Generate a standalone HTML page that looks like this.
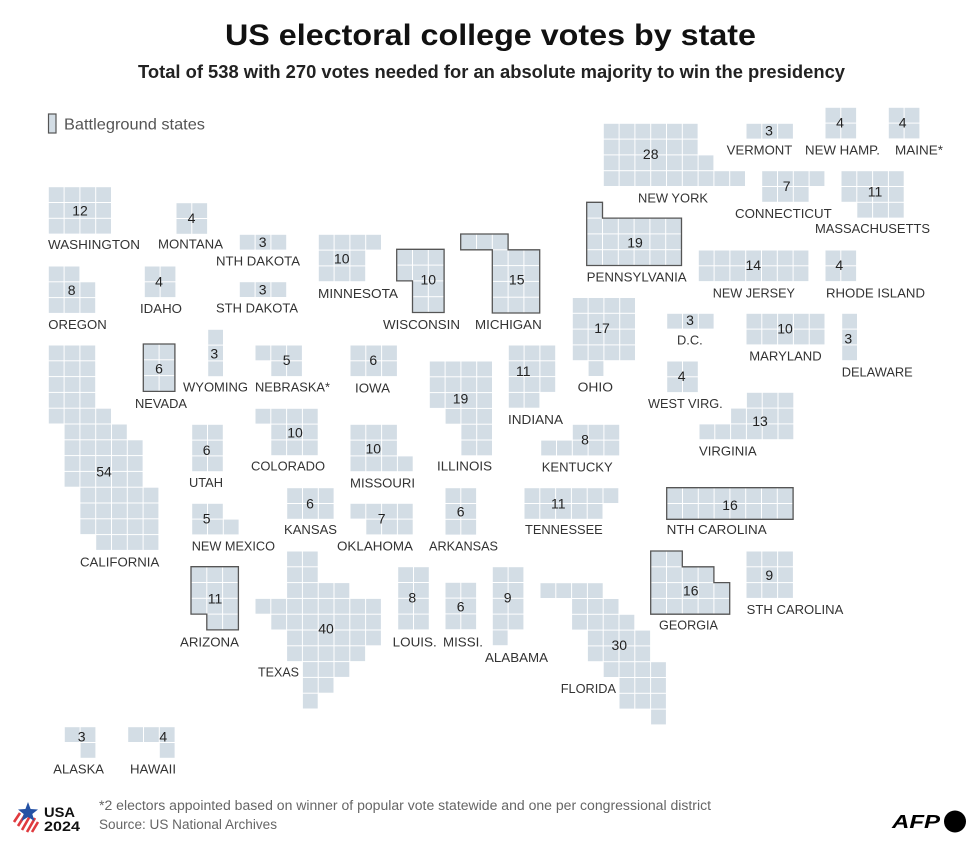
<!DOCTYPE html>
<html>
<head>
<meta charset="utf-8">
<style>
html,body{margin:0;padding:0;background:#fff;}
svg{display:block;}
.t{font-family:"Liberation Sans",Arial,sans-serif;}
.lb{font-family:"Liberation Sans",Arial,sans-serif;font-size:13px;fill:#333;}
.n{font-family:"Liberation Sans",Arial,sans-serif;font-size:14px;fill:#222;text-anchor:middle;}
.bd{fill:none;stroke:#555;stroke-width:1.3;}
</style>
</head>
<body>
<svg width="980" height="845" viewBox="0 0 980 845" xmlns="http://www.w3.org/2000/svg">
<defs>
<pattern id="c" patternUnits="userSpaceOnUse" width="15.8" height="15.8">
<rect x="0.5" y="0.5" width="14.8" height="14.8" fill="#d3dde5"/>
</pattern>
</defs>
<rect width="980" height="845" fill="#fff"/>

<!-- Header -->
<text class="t" x="225" y="45" font-size="30" font-weight="bold" fill="#111" textLength="531" lengthAdjust="spacingAndGlyphs">US electoral college votes by state</text>
<text class="t" x="138" y="78" font-size="18" font-weight="bold" fill="#222" textLength="707" lengthAdjust="spacingAndGlyphs">Total of 538 with 270 votes needed for an absolute majority to win the presidency</text>

<!-- Legend -->
<rect x="48.5" y="114" width="7.5" height="19" fill="#d3dde5" stroke="#555" stroke-width="1.2"/>
<text class="t" x="64" y="129.5" font-size="16" fill="#555" textLength="141" lengthAdjust="spacingAndGlyphs">Battleground states</text>

<!-- States -->
<g fill="url(#c)">
<g transform="translate(48.3,186.7)"><rect x="0" y="0" width="63.2" height="47.4"/></g>
<g transform="translate(176,202.7)"><rect x="0" y="0" width="31.6" height="31.6"/></g>
<g transform="translate(239.3,234.3)"><rect x="0" y="0" width="47.4" height="15.8"/></g>
<g transform="translate(48.3,266)"><rect x="0" y="0" width="31.6" height="15.8"/><rect x="0" y="15.8" width="47.4" height="31.6"/></g>
<g transform="translate(144.3,266)"><rect x="0" y="0" width="31.6" height="31.6"/></g>
<g transform="translate(239.3,281.7)"><rect x="0" y="0" width="47.4" height="15.8"/></g>
<g transform="translate(318.3,234.3)"><rect x="0" y="0" width="63.2" height="15.8"/><rect x="0" y="15.8" width="47.4" height="31.6"/></g>
<g transform="translate(396.7,249.3)"><rect x="0" y="0" width="47.4" height="31.6"/><rect x="15.8" y="31.6" width="31.6" height="31.6"/><path class="bd" d="M0,0H47.4V63.2H15.8V31.6H0Z"/></g>
<g transform="translate(460.7,234)"><rect x="0" y="0" width="47.4" height="15.8"/><rect x="31.6" y="15.8" width="47.4" height="63.2"/><path class="bd" d="M0,0H47.4V15.8H79V79H31.6V15.8H0Z"/></g>
<g transform="translate(207.7,329.3)"><rect x="0" y="0" width="15.8" height="47.4"/></g>
<g transform="translate(143.3,344)"><rect x="0" y="0" width="31.6" height="47.4"/><path class="bd" d="M0,0H31.6V47.4H0Z"/></g>
<g transform="translate(255,345)"><rect x="0" y="0" width="47.4" height="15.8"/><rect x="15.8" y="15.8" width="31.6" height="15.8"/></g>
<g transform="translate(350,345)"><rect x="0" y="0" width="47.4" height="31.6"/></g>
<g transform="translate(48.3,345)">
<rect x="0" y="0" width="47.4" height="63.2"/>
<rect x="0" y="63.2" width="63.2" height="15.8"/>
<rect x="15.8" y="79" width="63.2" height="15.8"/>
<rect x="15.8" y="94.8" width="79" height="47.4"/>
<rect x="31.6" y="142.2" width="79" height="47.4"/>
<rect x="47.4" y="189.6" width="63.2" height="15.8"/>
</g>
<g transform="translate(191.7,424.3)"><rect x="0" y="0" width="31.6" height="47.4"/></g>
<g transform="translate(255,408.3)"><rect x="0" y="0" width="63.2" height="15.8"/><rect x="15.8" y="15.8" width="47.4" height="31.6"/></g>
<g transform="translate(350,424.3)"><rect x="0" y="0" width="47.4" height="31.6"/><rect x="0" y="31.6" width="63.2" height="15.8"/></g>
<g transform="translate(429.3,361)"><rect x="0" y="0" width="63.2" height="47.4"/><rect x="15.8" y="47.4" width="47.4" height="15.8"/><rect x="31.6" y="63.2" width="31.6" height="31.6"/></g>
<g transform="translate(508.3,345)"><rect x="0" y="0" width="47.4" height="47.4"/><rect x="0" y="47.4" width="31.6" height="15.8"/></g>
<g transform="translate(572.3,297.5)"><rect x="0" y="0" width="63.2" height="63.2"/><rect x="15.8" y="63.2" width="15.8" height="15.8"/></g>
<g transform="translate(191.7,503.3)"><rect x="0" y="0" width="31.6" height="15.8"/><rect x="0" y="15.8" width="47.4" height="15.8"/></g>
<g transform="translate(286.7,487.7)"><rect x="0" y="0" width="47.4" height="31.6"/></g>
<g transform="translate(350,503.3)"><rect x="0" y="0" width="63.2" height="15.8"/><rect x="15.8" y="15.8" width="47.4" height="15.8"/></g>
<g transform="translate(445,487.7)"><rect x="0" y="0" width="31.6" height="47.4"/></g>
<g transform="translate(540.7,424.3)"><rect x="31.6" y="0" width="47.4" height="15.8"/><rect x="0" y="15.8" width="79" height="15.8"/></g>
<g transform="translate(524,487.7)"><rect x="0" y="0" width="94.8" height="15.8"/><rect x="0" y="15.8" width="79" height="15.8"/></g>
<g transform="translate(666.7,487.7)"><rect x="0" y="0" width="126.4" height="31.6"/><path class="bd" d="M0,0H126.4V31.6H0Z"/></g>
<g transform="translate(666.7,361)"><rect x="0" y="0" width="31.6" height="31.6"/></g>
<g transform="translate(699,392.3)"><rect x="47.4" y="0" width="47.4" height="15.8"/><rect x="31.6" y="15.8" width="63.2" height="15.8"/><rect x="0" y="31.6" width="94.8" height="15.8"/></g>
<g transform="translate(666.7,313.3)"><rect x="0" y="0" width="47.4" height="15.8"/></g>
<g transform="translate(746,313.3)"><rect x="0" y="0" width="79" height="31.6"/></g>
<g transform="translate(841.7,313.3)"><rect x="0" y="0" width="15.8" height="47.4"/></g>
<g transform="translate(603.3,123.3)"><rect x="0" y="0" width="94.8" height="31.6"/><rect x="0" y="31.6" width="110.6" height="15.8"/><rect x="0" y="47.4" width="142.2" height="15.8"/></g>
<g transform="translate(746,123.3)"><rect x="0" y="0" width="47.4" height="15.8"/></g>
<g transform="translate(825,107.3)"><rect x="0" y="0" width="31.6" height="31.6"/></g>
<g transform="translate(888.3,107.3)"><rect x="0" y="0" width="31.6" height="31.6"/></g>
<g transform="translate(761.7,170.7)"><rect x="0" y="0" width="63.2" height="15.8"/><rect x="0" y="15.8" width="47.4" height="15.8"/></g>
<g transform="translate(841,170.7)"><rect x="0" y="0" width="63.2" height="31.6"/><rect x="15.8" y="31.6" width="47.4" height="15.8"/></g>
<g transform="translate(586.7,202.3)"><rect x="0" y="0" width="15.8" height="15.8"/><rect x="0" y="15.8" width="94.8" height="47.4"/><path class="bd" d="M0,0H15.8V15.8H94.8V63.2H0Z"/></g>
<g transform="translate(698.3,250)"><rect x="0" y="0" width="110.6" height="31.6"/></g>
<g transform="translate(825,250)"><rect x="0" y="0" width="31.6" height="31.6"/></g>
<g transform="translate(191,566.7)"><rect x="0" y="0" width="47.4" height="47.4"/><rect x="15.8" y="47.4" width="31.6" height="15.8"/><path class="bd" d="M0,0H47.4V63.2H15.8V47.4H0Z"/></g>
<g transform="translate(255,551)">
<rect x="31.6" y="0" width="31.6" height="31.6"/>
<rect x="31.6" y="31.6" width="63.2" height="15.8"/>
<rect x="0" y="47.4" width="126.4" height="15.8"/>
<rect x="15.8" y="63.2" width="110.6" height="15.8"/>
<rect x="31.6" y="79" width="94.8" height="15.8"/>
<rect x="31.6" y="94.8" width="79" height="15.8"/>
<rect x="47.4" y="110.6" width="47.4" height="15.8"/>
<rect x="47.4" y="126.4" width="31.6" height="15.8"/>
<rect x="47.4" y="142.2" width="15.8" height="15.8"/>
</g>
<g transform="translate(397.7,566.7)"><rect x="0" y="0" width="31.6" height="63.2"/></g>
<g transform="translate(445,582.3)"><rect x="0" y="0" width="31.6" height="47.4"/></g>
<g transform="translate(492.3,566.7)"><rect x="0" y="0" width="31.6" height="63.2"/><rect x="0" y="63.2" width="15.8" height="15.8"/></g>
<g transform="translate(650.7,551)"><rect x="0" y="0" width="31.6" height="15.8"/><rect x="0" y="15.8" width="63.2" height="15.8"/><rect x="0" y="31.6" width="79" height="31.6"/><path class="bd" d="M0,0H31.6V15.8H63.2V31.6H79V63.2H0Z"/></g>
<g transform="translate(746,551)"><rect x="0" y="0" width="47.4" height="47.4"/></g>
<g transform="translate(540,582.7)">
<rect x="0" y="0" width="63.2" height="15.8"/>
<rect x="31.6" y="15.8" width="47.4" height="15.8"/>
<rect x="31.6" y="31.6" width="63.2" height="15.8"/>
<rect x="47.4" y="47.4" width="63.2" height="31.6"/>
<rect x="63.2" y="79" width="63.2" height="15.8"/>
<rect x="79" y="94.8" width="47.4" height="31.6"/>
<rect x="110.6" y="126.4" width="15.8" height="15.8"/>
</g>
<g transform="translate(64.3,726.7)"><rect x="0" y="0" width="31.6" height="15.8"/><rect x="15.8" y="15.8" width="15.8" height="15.8"/></g>
<g transform="translate(127.7,726.7)"><rect x="0" y="0" width="47.4" height="15.8"/><rect x="31.6" y="15.8" width="15.8" height="15.8"/></g>
</g>

<!-- Numbers -->
<g>
<text class="n" x="80" y="215.5">12</text>
<text class="n" x="191.5" y="223">4</text>
<text class="n" x="262.7" y="247">3</text>
<text class="n" x="71.7" y="295">8</text>
<text class="n" x="159" y="286.7">4</text>
<text class="n" x="262.7" y="294.5">3</text>
<text class="n" x="341.7" y="263.3">10</text>
<text class="n" x="428.3" y="284.3">10</text>
<text class="n" x="516.7" y="284.3">15</text>
<text class="n" x="214.3" y="358.3">3</text>
<text class="n" x="159" y="373.3">6</text>
<text class="n" x="286.7" y="365">5</text>
<text class="n" x="373.3" y="365">6</text>
<text class="n" x="104" y="476.7">54</text>
<text class="n" x="206.7" y="455">6</text>
<text class="n" x="295" y="437.7">10</text>
<text class="n" x="373.3" y="453.3">10</text>
<text class="n" x="460.5" y="403.3">19</text>
<text class="n" x="523.3" y="376">11</text>
<text class="n" x="602" y="333">17</text>
<text class="n" x="206.7" y="523.3">5</text>
<text class="n" x="310" y="508.3">6</text>
<text class="n" x="381.7" y="523.3">7</text>
<text class="n" x="460.7" y="516.7">6</text>
<text class="n" x="585" y="444.3">8</text>
<text class="n" x="558.3" y="508.3">11</text>
<text class="n" x="730" y="510">16</text>
<text class="n" x="681.7" y="381">4</text>
<text class="n" x="760" y="426">13</text>
<text class="n" x="690" y="325">3</text>
<text class="n" x="785" y="333.3">10</text>
<text class="n" x="848.3" y="343.3">3</text>
<text class="n" x="650.7" y="159">28</text>
<text class="n" x="769" y="135.7">3</text>
<text class="n" x="840" y="127.7">4</text>
<text class="n" x="902.7" y="127.7">4</text>
<text class="n" x="786.7" y="191">7</text>
<text class="n" x="875" y="196.7">11</text>
<text class="n" x="635" y="247.7">19</text>
<text class="n" x="753.3" y="270">14</text>
<text class="n" x="839.3" y="270">4</text>
<text class="n" x="215" y="603.3">11</text>
<text class="n" x="326" y="633.3">40</text>
<text class="n" x="412.3" y="602.7">8</text>
<text class="n" x="460.7" y="611.7">6</text>
<text class="n" x="507.7" y="602.7">9</text>
<text class="n" x="690.7" y="595.7">16</text>
<text class="n" x="769.3" y="580">9</text>
<text class="n" x="619.3" y="650">30</text>
<text class="n" x="81.7" y="741.7">3</text>
<text class="n" x="163.3" y="741.7">4</text>
</g>

<!-- Labels -->
<g>
<text class="lb" x="48" y="249" textLength="92" lengthAdjust="spacingAndGlyphs">WASHINGTON</text>
<text class="lb" x="158" y="248.7" textLength="65" lengthAdjust="spacingAndGlyphs">MONTANA</text>
<text class="lb" x="216" y="265.4" textLength="84" lengthAdjust="spacingAndGlyphs">NTH DAKOTA</text>
<text class="lb" x="48.3" y="329" textLength="58.4" lengthAdjust="spacingAndGlyphs">OREGON</text>
<text class="lb" x="140" y="313" textLength="42" lengthAdjust="spacingAndGlyphs">IDAHO</text>
<text class="lb" x="216" y="312.4" textLength="82" lengthAdjust="spacingAndGlyphs">STH DAKOTA</text>
<text class="lb" x="318" y="298" textLength="80" lengthAdjust="spacingAndGlyphs">MINNESOTA</text>
<text class="lb" x="383" y="329" textLength="77" lengthAdjust="spacingAndGlyphs">WISCONSIN</text>
<text class="lb" x="475" y="329" textLength="66.7" lengthAdjust="spacingAndGlyphs">MICHIGAN</text>
<text class="lb" x="183" y="391.4" textLength="65" lengthAdjust="spacingAndGlyphs">WYOMING</text>
<text class="lb" x="135" y="408" textLength="52" lengthAdjust="spacingAndGlyphs">NEVADA</text>
<text class="lb" x="255" y="391.4" textLength="75" lengthAdjust="spacingAndGlyphs">NEBRASKA*</text>
<text class="lb" x="355" y="392.4" textLength="35" lengthAdjust="spacingAndGlyphs">IOWA</text>
<text class="lb" x="80" y="566.4" textLength="79.3" lengthAdjust="spacingAndGlyphs">CALIFORNIA</text>
<text class="lb" x="189" y="487" textLength="34" lengthAdjust="spacingAndGlyphs">UTAH</text>
<text class="lb" x="251" y="470.7" textLength="74" lengthAdjust="spacingAndGlyphs">COLORADO</text>
<text class="lb" x="350" y="487.4" textLength="65" lengthAdjust="spacingAndGlyphs">MISSOURI</text>
<text class="lb" x="437" y="470.7" textLength="55" lengthAdjust="spacingAndGlyphs">ILLINOIS</text>
<text class="lb" x="508" y="424" textLength="55" lengthAdjust="spacingAndGlyphs">INDIANA</text>
<text class="lb" x="577.7" y="391.4" textLength="35.3" lengthAdjust="spacingAndGlyphs">OHIO</text>
<text class="lb" x="191.7" y="550.7" textLength="83.3" lengthAdjust="spacingAndGlyphs">NEW MEXICO</text>
<text class="lb" x="284" y="534" textLength="53" lengthAdjust="spacingAndGlyphs">KANSAS</text>
<text class="lb" x="337" y="550.7" textLength="76" lengthAdjust="spacingAndGlyphs">OKLAHOMA</text>
<text class="lb" x="429" y="550.7" textLength="69" lengthAdjust="spacingAndGlyphs">ARKANSAS</text>
<text class="lb" x="541.7" y="471.4" textLength="71" lengthAdjust="spacingAndGlyphs">KENTUCKY</text>
<text class="lb" x="525" y="534" textLength="77.7" lengthAdjust="spacingAndGlyphs">TENNESSEE</text>
<text class="lb" x="666.7" y="534" textLength="100" lengthAdjust="spacingAndGlyphs">NTH CAROLINA</text>
<text class="lb" x="648" y="408" textLength="74.7" lengthAdjust="spacingAndGlyphs">WEST VIRG.</text>
<text class="lb" x="699" y="455.7" textLength="57.7" lengthAdjust="spacingAndGlyphs">VIRGINIA</text>
<text class="lb" x="677" y="344.7" textLength="25.7" lengthAdjust="spacingAndGlyphs">D.C.</text>
<text class="lb" x="749.3" y="360.7" textLength="72.4" lengthAdjust="spacingAndGlyphs">MARYLAND</text>
<text class="lb" x="841.7" y="376.4" textLength="71" lengthAdjust="spacingAndGlyphs">DELAWARE</text>
<text class="lb" x="638" y="202.4" textLength="70" lengthAdjust="spacingAndGlyphs">NEW YORK</text>
<text class="lb" x="726.7" y="154.7" textLength="65.6" lengthAdjust="spacingAndGlyphs">VERMONT</text>
<text class="lb" x="805" y="154.7" textLength="75" lengthAdjust="spacingAndGlyphs">NEW HAMP.</text>
<text class="lb" x="895" y="154.7" textLength="48" lengthAdjust="spacingAndGlyphs">MAINE*</text>
<text class="lb" x="735" y="218" textLength="96.7" lengthAdjust="spacingAndGlyphs">CONNECTICUT</text>
<text class="lb" x="815" y="233" textLength="115" lengthAdjust="spacingAndGlyphs">MASSACHUSETTS</text>
<text class="lb" x="586.7" y="281.4" textLength="100" lengthAdjust="spacingAndGlyphs">PENNSYLVANIA</text>
<text class="lb" x="712.7" y="297.4" textLength="82.3" lengthAdjust="spacingAndGlyphs">NEW JERSEY</text>
<text class="lb" x="826" y="297.4" textLength="99" lengthAdjust="spacingAndGlyphs">RHODE ISLAND</text>
<text class="lb" x="180" y="646.4" textLength="59" lengthAdjust="spacingAndGlyphs">ARIZONA</text>
<text class="lb" x="258" y="676.4" textLength="41" lengthAdjust="spacingAndGlyphs">TEXAS</text>
<text class="lb" x="392.7" y="646.4" textLength="44" lengthAdjust="spacingAndGlyphs">LOUIS.</text>
<text class="lb" x="443" y="646.4" textLength="40" lengthAdjust="spacingAndGlyphs">MISSI.</text>
<text class="lb" x="485" y="662" textLength="63" lengthAdjust="spacingAndGlyphs">ALABAMA</text>
<text class="lb" x="659" y="629.7" textLength="59" lengthAdjust="spacingAndGlyphs">GEORGIA</text>
<text class="lb" x="746.7" y="614" textLength="96.6" lengthAdjust="spacingAndGlyphs">STH CAROLINA</text>
<text class="lb" x="560.7" y="693" textLength="55.3" lengthAdjust="spacingAndGlyphs">FLORIDA</text>
<text class="lb" x="53.3" y="773.7" textLength="50.7" lengthAdjust="spacingAndGlyphs">ALASKA</text>
<text class="lb" x="130" y="773.7" textLength="46" lengthAdjust="spacingAndGlyphs">HAWAII</text>
</g>

<!-- Footer -->
<text class="t" x="99" y="810" font-size="13.5" fill="#666" textLength="612" lengthAdjust="spacingAndGlyphs">*2 electors appointed based on winner of popular vote statewide and one per congressional district</text>
<text class="t" x="99" y="829" font-size="13.5" fill="#666" textLength="178" lengthAdjust="spacingAndGlyphs">Source: US National Archives</text>

<!-- USA 2024 logo -->
<g>
<path d="M14,816 L22,820 L19,828 Z M18,813 L38,813 L30,833 L12,833 Z" fill="none"/>
<path d="M14,822 L20,813 M18,826 L25,815 M22,830 L30,816 M27,832 L35,818 M32,832 L38,822" stroke="#e03a3e" stroke-width="2.6" fill="none"/>
<polygon points="28,802 30.6,809 38,809.5 32.3,814 34.4,821 28,817 21.6,821 23.7,814 18,809.5 25.4,809" fill="#2451a4"/>
<text class="t" x="44" y="817" font-size="14" font-weight="bold" fill="#111" textLength="31" lengthAdjust="spacingAndGlyphs">USA</text>
<text class="t" x="44" y="831" font-size="14" font-weight="bold" fill="#111" textLength="36" lengthAdjust="spacingAndGlyphs">2024</text>
</g>

<!-- AFP logo -->
<text class="t" x="892" y="828" font-size="18" font-weight="bold" font-style="italic" fill="#000" textLength="48" lengthAdjust="spacingAndGlyphs">AFP</text>
<circle cx="955" cy="821.5" r="11" fill="#000"/>
</svg>
</body>
</html>
